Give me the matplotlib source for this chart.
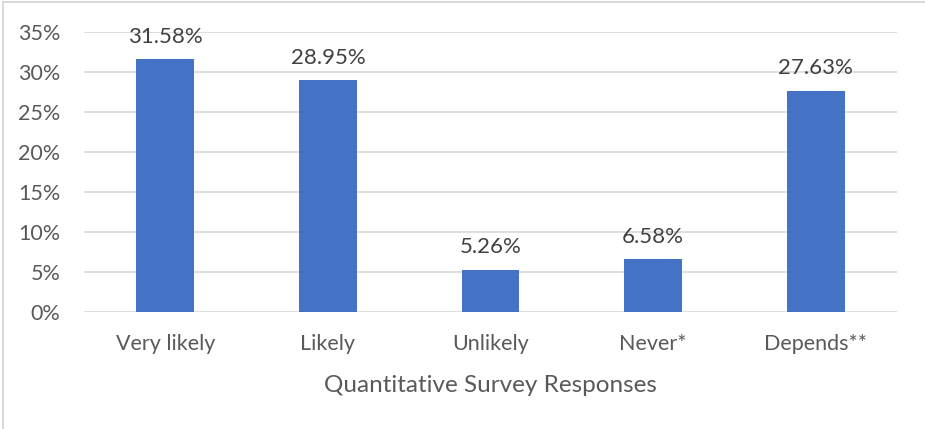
import numpy as np
import matplotlib.pyplot as plt
from matplotlib.patches import Rectangle

categories = ['Very likely', 'Likely', 'Unlikely', 'Never*', 'Depends**']
values = [31.58, 28.95, 5.26, 6.58, 27.63]
yticks = [0, 5, 10, 15, 20, 25, 30, 35]

plt.rcParams['font.family'] = ['Lato', 'DejaVu Sans']

fig = plt.figure(figsize=(9.25, 4.29), dpi=100)
ax = fig.add_axes([84/925, 1 - 312/429, (897 - 84)/925, 280/429])

x = np.arange(len(categories))
bars = ax.bar(x, values, width=0.355, color='#4472C4', zorder=3)
for b, v in zip(bars, values):
    ax.text(b.get_x() + b.get_width()/2, v + 1.6, f'{v:.2f}%',
            ha='center', va='bottom', fontsize=16, color='#404040')

ax.set_xlim(-0.5, len(categories) - 0.5)
ax.set_ylim(0, 35)
ax.set_yticks(yticks)
ax.set_yticklabels([f'{t}%' for t in yticks])
ax.set_xticks(x)
ax.set_xticklabels(categories)
ax.tick_params(length=0, labelsize=15.5, labelcolor='#595959')
ax.tick_params(axis='y', pad=17)
ax.tick_params(axis='x', pad=16)
ax.grid(axis='y', color='#D9D9D9', linewidth=1.2, zorder=0)
for s in ax.spines.values():
    s.set_visible(False)
ax.set_xlabel('Quantitative Survey Responses', fontsize=17.5, color='#595959', labelpad=15)

# chart border (only top and left visible in the crop)
fig.patches.append(Rectangle((3/925, -0.1), 1.2, 1.1 - 2/429, transform=fig.transFigure,
                             fill=False, edgecolor='#D9D9D9', linewidth=1.5))

fig.savefig('out.png', dpi=100)
